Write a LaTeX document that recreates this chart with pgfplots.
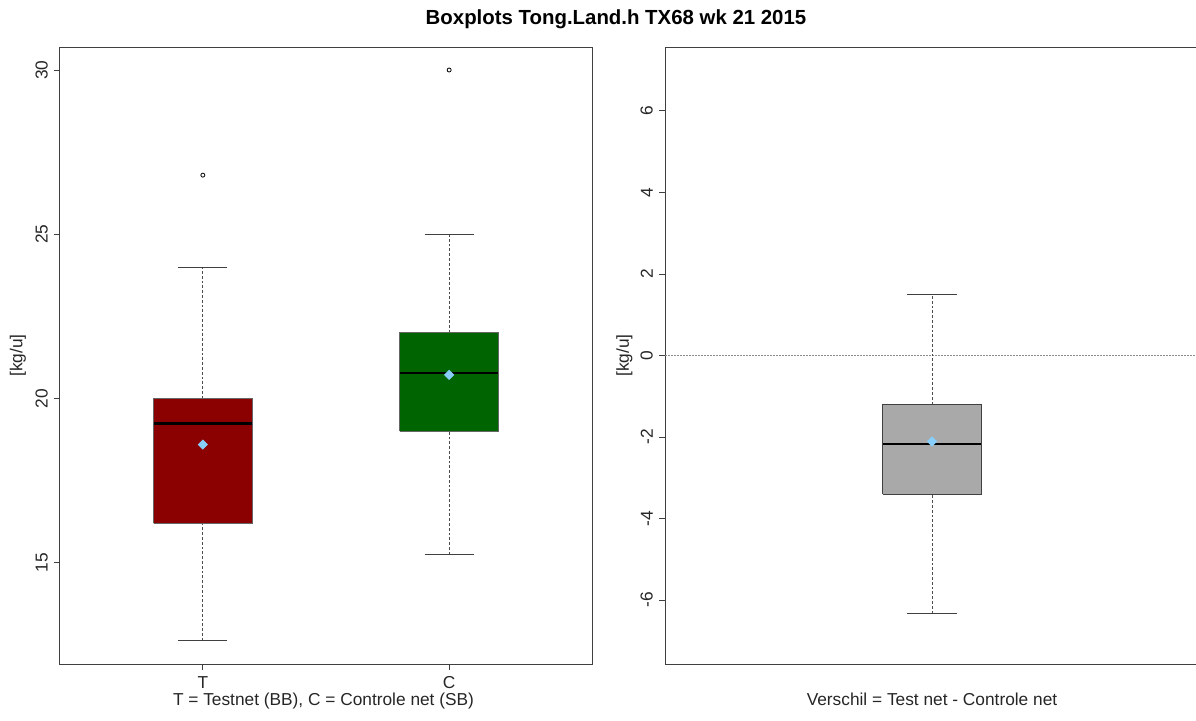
\documentclass[border=0pt]{standalone}
\usepackage{pgfplots}
\pgfplotsset{compat=1.18}
\usepackage{fontspec}
\setmainfont{Liberation Sans}
\definecolor{tred}{HTML}{8B0000}
\definecolor{cgreen}{HTML}{006400}
\definecolor{dgray}{HTML}{A9A9A9}
\definecolor{lsky}{HTML}{87CEFA}
\begin{document}
\fontsize{8.65}{10}\selectfont
\begin{tikzpicture}
\path[use as bounding box] (0,0) rectangle (598pt,-360pt);
\pgfplotsset{
  myax/.style={
    scale only axis, anchor=north west, height=308.5pt,
    axis line style={black!75, line width=0.5pt},
    tick style={black!75, line width=0.5pt},
    tick align=outside, major tick length=3pt,
    tick pos=left,
    /pgf/number format/assume math mode=true,
    yticklabel style={rotate=90, anchor=south, font=\fontsize{8.65}{10}\selectfont, text=black!85},
    xticklabel style={font=\fontsize{8.65}{10}\selectfont, text=black!85},
    clip=true,
  },
  wh/.style={black!70, line width=0.5pt, dash pattern=on 1.4pt off 1pt},
  cap/.style={black!75, line width=0.5pt},
  med/.style={black, line width=1.4pt},
  mn/.style={only marks, mark=square*, mark size=1.6pt, mark options={rotate=45, fill=lsky, draw=lsky}},
  outl/.style={only marks, mark=o, mark size=1pt, mark options={black, line width=0.4pt}},
}
% left panel
\begin{axis}[myax, at={(30pt,-23.5pt)}, width=266pt,
  xmin=0.42, xmax=2.58, ymin=11.92, ymax=30.70,
  xtick={1,2}, xticklabels={T,C},
  ytick={15,20,25,30}]
  % T
  \addplot[wh] coordinates {(1,12.63) (1,16.2)};
  \addplot[wh] coordinates {(1,20) (1,24)};
  \addplot[cap] coordinates {(0.9,12.63) (1.1,12.63)};
  \addplot[cap] coordinates {(0.9,24) (1.1,24)};
  \addplot[fill=tred, draw=black!60, line width=0.4pt] coordinates {(0.8,16.2) (1.2,16.2) (1.2,20) (0.8,20) (0.8,16.2)};
  \addplot[med] coordinates {(0.8,19.25) (1.2,19.25)};
  \addplot[mn] coordinates {(1,18.6)};
  \addplot[outl] coordinates {(1,26.8)};
  % C
  \addplot[wh] coordinates {(2,15.25) (2,19)};
  \addplot[wh] coordinates {(2,22) (2,25)};
  \addplot[cap] coordinates {(1.9,15.25) (2.1,15.25)};
  \addplot[cap] coordinates {(1.9,25) (2.1,25)};
  \addplot[fill=cgreen, draw=black!60, line width=0.4pt] coordinates {(1.8,19) (2.2,19) (2.2,22) (1.8,22) (1.8,19)};
  \addplot[med] coordinates {(1.8,20.78) (2.2,20.78)};
  \addplot[mn] coordinates {(2,20.72)};
  \addplot[outl] coordinates {(2,30)};
\end{axis}
% right panel
\begin{axis}[myax, at={(332.5pt,-23.5pt)}, width=267pt,
  xmin=0.46, xmax=1.54, ymin=-7.57, ymax=7.57,
  xtick=\empty,
  ytick={-6,-4,-2,0,2,4,6}]
  \addplot[black!45, line width=0.5pt, dash pattern=on 0.6pt off 0.9pt] coordinates {(0.4,0) (1.6,0)};
  \addplot[wh] coordinates {(1,-6.33) (1,-3.4)};
  \addplot[wh] coordinates {(1,-1.2) (1,1.5)};
  \addplot[cap] coordinates {(0.95,-6.33) (1.05,-6.33)};
  \addplot[cap] coordinates {(0.95,1.5) (1.05,1.5)};
  \addplot[fill=dgray, draw=black!75, line width=0.5pt] coordinates {(0.9,-3.4) (1.1,-3.4) (1.1,-1.2) (0.9,-1.2) (0.9,-3.4)};
  \addplot[med] coordinates {(0.9,-2.17) (1.1,-2.17)};
  \addplot[mn] coordinates {(1,-2.11)};
\end{axis}
% texts
\node[anchor=base, font=\fontsize{10.2}{12}\selectfont\bfseries] at (308pt,-12pt) {Boxplots Tong.Land.h TX68 wk 21 2015};
\node[anchor=base, text=black!85] at (161.75pt,-352.5pt) {T = Testnet (BB), C = Controle net (SB)};
\node[anchor=base, text=black!85] at (466pt,-352.5pt) {Verschil = Test net - Controle net};
\node[rotate=90, anchor=center, text=black!85] at (9pt,-177.75pt) {[kg/u]};
\node[rotate=90, anchor=center, text=black!85] at (312.25pt,-177.75pt) {[kg/u]};
\end{tikzpicture}
\end{document}
